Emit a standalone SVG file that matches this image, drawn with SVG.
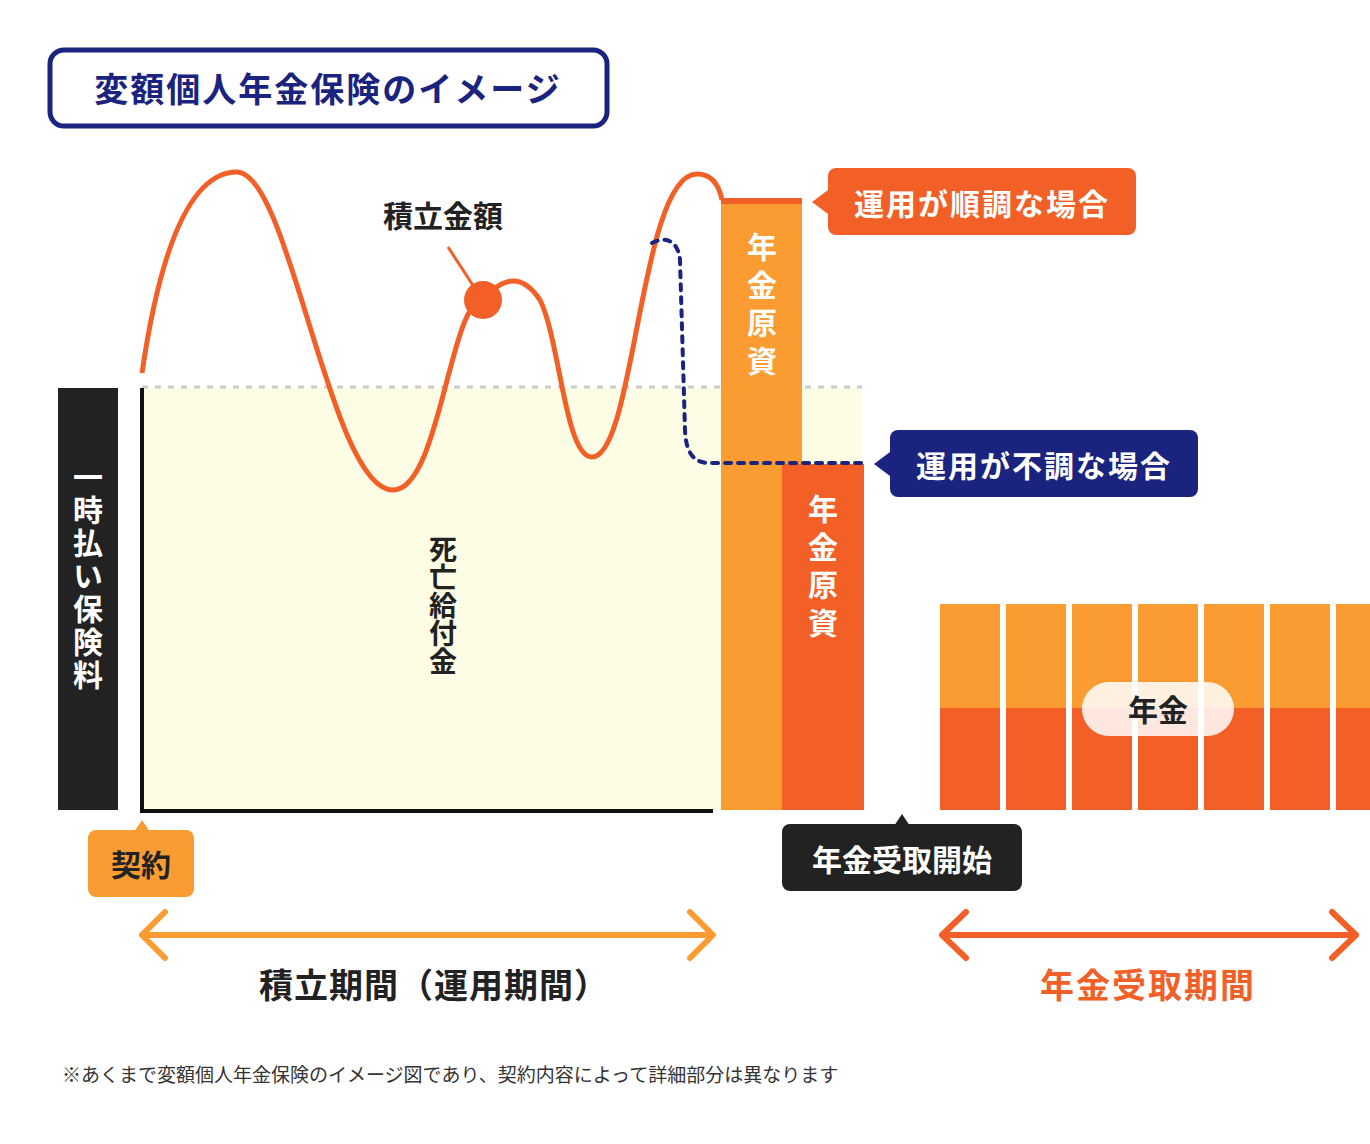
<svg xmlns="http://www.w3.org/2000/svg" width="1370" height="1144" viewBox="0 0 1370 1144">
<style>
text{font-family:"Noto Sans CJK JP","Noto Sans",sans-serif;font-weight:700}
.w{fill:#fff}
.d{fill:#222}
.vt{writing-mode:vertical-rl;text-orientation:upright}
</style>
<rect width="1370" height="1144" fill="#fff"/>
<g id="title"><rect x="50" y="50" width="557" height="76" rx="14" fill="#fff" stroke="#1a237e" stroke-width="5"/><text x="328" y="102" font-size="34" text-anchor="middle" fill="#1a237e" letter-spacing="2">変額個人年金保険のイメージ</text></g>
<g id="area"><rect x="142" y="388" width="720" height="422" fill="#fdfde6"/>
<line x1="142" y1="387" x2="862" y2="387" stroke="#ccc" stroke-width="3" stroke-dasharray="6,7"/>
<path d="M142 388V811H713" fill="none" stroke="#111" stroke-width="4"/>
<text class="d vt" x="443" y="535" font-size="28">死亡給付金</text></g>
<g id="premium"><rect x="58" y="388" width="60" height="422" fill="#222"/><text class="w vt" x="88" y="462" font-size="30" letter-spacing="3">一時払い保険料</text></g>
<g id="bar1"><rect x="721" y="200" width="81" height="610" fill="#fb9c33"/><rect x="721" y="198" width="81" height="6" fill="#f26028"/><text class="w vt" x="762" y="232" font-size="30" letter-spacing="8">年金原資</text></g>
<g id="bar2"><rect x="782" y="464" width="82" height="346" fill="#f26028"/><text class="w vt" x="823" y="494" font-size="30" letter-spacing="8">年金原資</text></g>
<g id="connectors" fill="none">
<path d="M142 373C160 250 190 172 237 172C290 172 330 490 393 490C440 490 450 300 483 300C500 280 520 270 540 300C560 340 565 457 592 457C635 457 640 174 697 174C715 174 720 190 722 200" stroke="#f26028" stroke-width="5"/>
<line x1="448" y1="247" x2="476" y2="290" stroke="#f26028" stroke-width="3"/>
<circle cx="483" cy="300" r="19" fill="#f26028"/>
<path d="M652 243C665 236 678 240 680 260L685 430C686 455 695 463 710 463H865" stroke="#1a237e" stroke-width="4" stroke-dasharray="6,7" stroke-linecap="round"/>
<path d="M165 912L142 935L165 958M142 935H712M690 912L713 935L690 958" stroke="#fb9c33" stroke-width="6" stroke-linecap="round" stroke-linejoin="round"/>
<path d="M966 912L942 935L966 958M942 935H1356M1332 912L1356 935L1332 958" stroke="#f26028" stroke-width="6" stroke-linecap="round" stroke-linejoin="round"/>
</g>
<g id="label-sum"><text class="d" x="443" y="227" font-size="30" text-anchor="middle">積立金額</text></g>
<g id="good"><rect x="828" y="168" width="308" height="67" rx="8" fill="#f26028"/><path d="M828 190L812 202L828 214Z" fill="#f26028"/><text class="w" x="982" y="215" font-size="30" text-anchor="middle" letter-spacing="2">運用が順調な場合</text></g>
<g id="bad"><rect x="890" y="430" width="308" height="67" rx="8" fill="#1a237e"/><path d="M890 452L874 464L890 476Z" fill="#1a237e"/><text class="w" x="1044" y="477" font-size="30" text-anchor="middle" letter-spacing="2">運用が不調な場合</text></g>
<g id="pension">
<g fill="#fb9c33"><rect x="940" y="604" width="60" height="104"/><rect x="1006" y="604" width="60" height="104"/><rect x="1072" y="604" width="60" height="104"/><rect x="1138" y="604" width="60" height="104"/><rect x="1204" y="604" width="60" height="104"/><rect x="1270" y="604" width="60" height="104"/><rect x="1336" y="604" width="34" height="104"/></g>
<g fill="#f26028"><rect x="940" y="708" width="60" height="102"/><rect x="1006" y="708" width="60" height="102"/><rect x="1072" y="708" width="60" height="102"/><rect x="1138" y="708" width="60" height="102"/><rect x="1204" y="708" width="60" height="102"/><rect x="1270" y="708" width="60" height="102"/><rect x="1336" y="708" width="34" height="102"/></g>
<rect x="1082" y="682" width="152" height="54" rx="27" fill="#fff" opacity="0.85"/><text class="d" x="1158" y="721" font-size="30" text-anchor="middle">年金</text></g>
<g id="contract"><path d="M134 832L142 820L150 832Z" fill="#fb9c33"/><rect x="88" y="830" width="106" height="67" rx="8" fill="#fb9c33"/><text class="d" x="141" y="876" font-size="30" text-anchor="middle">契約</text></g>
<g id="start"><path d="M894 826L902 814L910 826Z" fill="#222"/><rect x="782" y="824" width="240" height="67" rx="8" fill="#222"/><text class="w" x="902" y="871" font-size="30" text-anchor="middle">年金受取開始</text></g>
<text class="d" x="434" y="998" font-size="34" text-anchor="middle" letter-spacing="1">積立期間（運用期間）</text>
<text x="1148" y="998" font-size="34" text-anchor="middle" fill="#f26028" letter-spacing="2">年金受取期間</text>
<text x="62" y="1082" font-size="19" fill="#333" style="font-weight:400">※あくまで変額個人年金保険のイメージ図であり、契約内容によって詳細部分は異なります</text>
</svg>
